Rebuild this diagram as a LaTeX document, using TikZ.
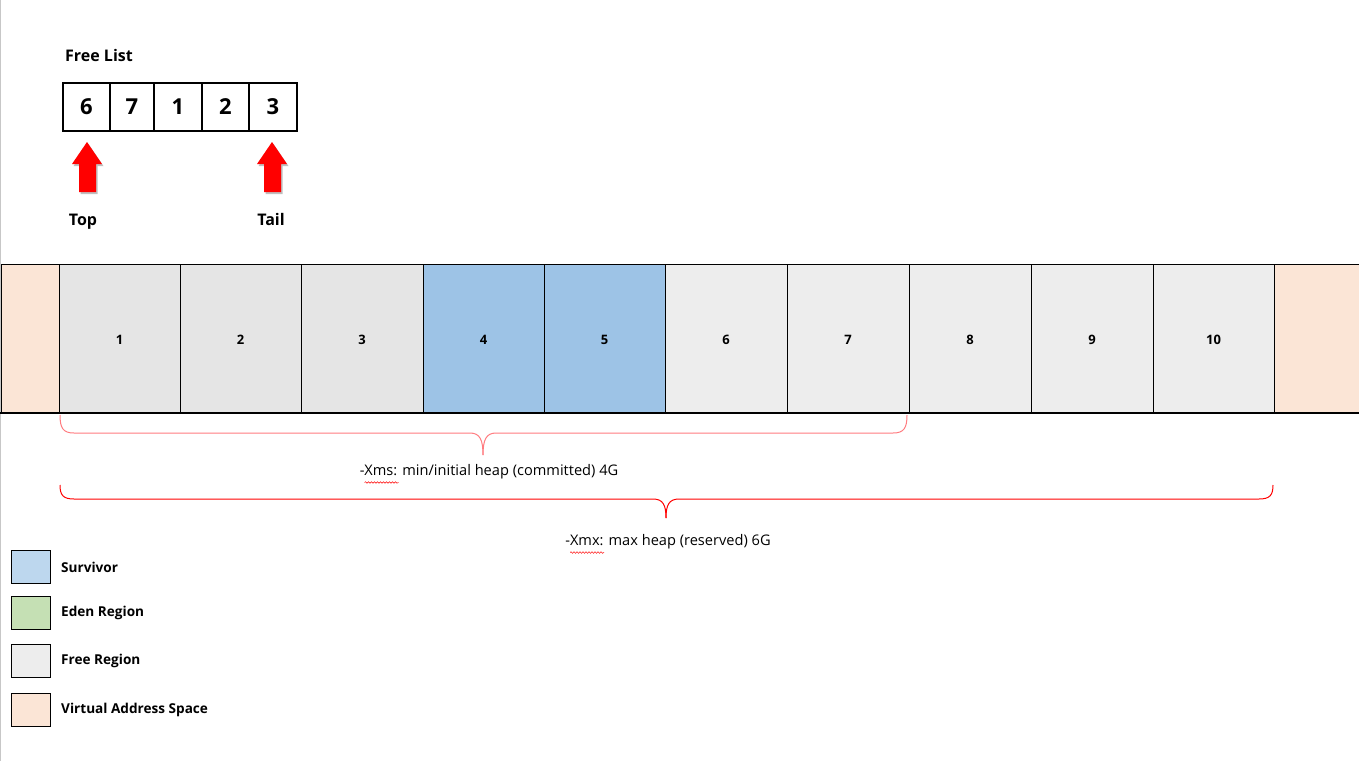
\documentclass[tikz,border=0pt]{standalone}
\usepackage{fontspec}
\setmainfont{Open Sans}
\usetikzlibrary{shadows,decorations.pathmorphing,calc}
\definecolor{cellA}{HTML}{E5E5E5}
\definecolor{cellB}{HTML}{EDEDED}
\definecolor{surv}{HTML}{9DC3E6}
\definecolor{peach}{HTML}{FBE5D6}
\definecolor{legsurv}{HTML}{BDD7EE}
\definecolor{legeden}{HTML}{C5E0B4}
\definecolor{legfree}{HTML}{EDEDED}
\definecolor{xmscol}{HTML}{FF7C80}
\definecolor{xmxcol}{HTML}{FF0000}
\begin{document}
\begin{tikzpicture}[x=1pt,y=-1pt,
  title/.style={font=\bfseries\fontsize{16}{19}\selectfont, inner sep=0},
  flbox/.style={draw, line width=1.6, minimum height=48, inner sep=0, font=\bfseries\fontsize{22}{25}\selectfont},
  cellnum/.style={font=\bfseries\fontsize{13}{15}\selectfont},
  bracelbl/.style={font=\fontsize{14.6}{17}\selectfont, inner sep=0},
  legbox/.style={draw, line width=0.9, minimum width=39, minimum height=33, inner sep=0},
  leglbl/.style={font=\bfseries\fontsize{13.6}{16}\selectfont, inner sep=0, anchor=west},
  blockarrow/.style={fill=red, drop shadow={shadow xshift=1.5pt, shadow yshift=-2pt, opacity=0.25, fill=black}},
  squiggle/.style={red, line width=0.5, decorate, decoration={snake, segment length=3pt, amplitude=0.8pt}}
]
\useasboundingbox (0,0) rectangle (1359,761);
\fill[white] (0,0) rectangle (1359,761);
\draw[black!22, line width=1] (0.5,0) -- (0.5,761);

% Free list
\node[title, anchor=west] (fltitle) at (65,55) {Free List};
\node[flbox, minimum width=47] (f1) at (86.5,107) {6};
\node[flbox, minimum width=44] (f2) at (132,107) {7};
\node[flbox, minimum width=48] (f3) at (178,107) {1};
\node[flbox, minimum width=47] (f4) at (225.5,107) {2};
\node[flbox, minimum width=48] (f5) at (273,107) {3};

\fill[blockarrow] (87,142) -- (102,164) -- (96,164) -- (96,192) -- (79,192) -- (79,164) -- (72,164) -- cycle;
\fill[blockarrow] (272,142) -- (287,164) -- (281,164) -- (281,192) -- (264,192) -- (264,164) -- (257,164) -- cycle;
\node[title] (top) at (83,222) {Top};
\node[title] (tail) at (271,219) {Tail};

% Heap bar
\fill[peach] (1,264) rectangle (59,413);
\fill[peach] (1274,264) rectangle (1359,413);
\draw[line width=0.9] (1,413) -- (1,264) -- (59,264);
\draw[line width=0.9] (1274,264) -- (1359,264);
\foreach \a/\b/\c/\n in {59/180/cellA/1, 180/301/cellA/2, 301/423/cellA/3, 423/544/surv/4, 544/665/surv/5, 665/787/cellB/6, 787/909/cellB/7, 909/1031/cellB/8, 1031/1153/cellB/9, 1153/1274/cellB/10}
  \draw[fill=\c, line width=0.9] (\a,264) rectangle (\b,413) node[midway, cellnum, yshift=-1pt] (r\n) {\n};
\draw[line width=1.8] (0,413) -- (1359,413);

% Xms brace
\draw[xmscol, line width=1] (60,415) .. controls (60,428) and (63,433) .. (74,433) -- (470,433) .. controls (480,433) and (483,440) .. (483,455);
\draw[xmscol, line width=1] (907,415) .. controls (907,428) and (904,433) .. (893,433) -- (496,433) .. controls (486,433) and (483,440) .. (483,455);
\node[bracelbl] (xms) at (489,472) {-Xms: min/initial heap (committed) 4G};
\draw[squiggle] ($(xms.south west)+(5,3)$) -- ($(xms.south west)+(39,3)$);

% Xmx brace
\draw[xmxcol, line width=1] (60,485) .. controls (60,495) and (63,499) .. (74,499) -- (653,499) .. controls (663,499) and (666,505) .. (666,518);
\draw[xmxcol, line width=1] (1273,485) .. controls (1273,495) and (1270,499) .. (1259,499) -- (679,499) .. controls (669,499) and (666,505) .. (666,518);
\node[bracelbl] (xmx) at (668,542) {-Xmx: max heap (reserved) 6G};
\draw[squiggle] ($(xmx.south west)+(5,3)$) -- ($(xmx.south west)+(39,3)$);

% Legend
\node[legbox, fill=legsurv] (l1) at (31,566.5) {};
\node[legbox, fill=legeden] (l2) at (31,612.5) {};
\node[legbox, fill=legfree] (l3) at (31,661) {};
\node[legbox, fill=peach] (l4) at (31,710) {};
\node[leglbl] (t1) at (61,567) {Survivor};
\node[leglbl] (t2) at (61,613) {Eden Region};
\node[leglbl] (t3) at (61,661) {Free Region};
\node[leglbl] (t4) at (61,710) {Virtual Address Space};
\end{tikzpicture}
\end{document}
